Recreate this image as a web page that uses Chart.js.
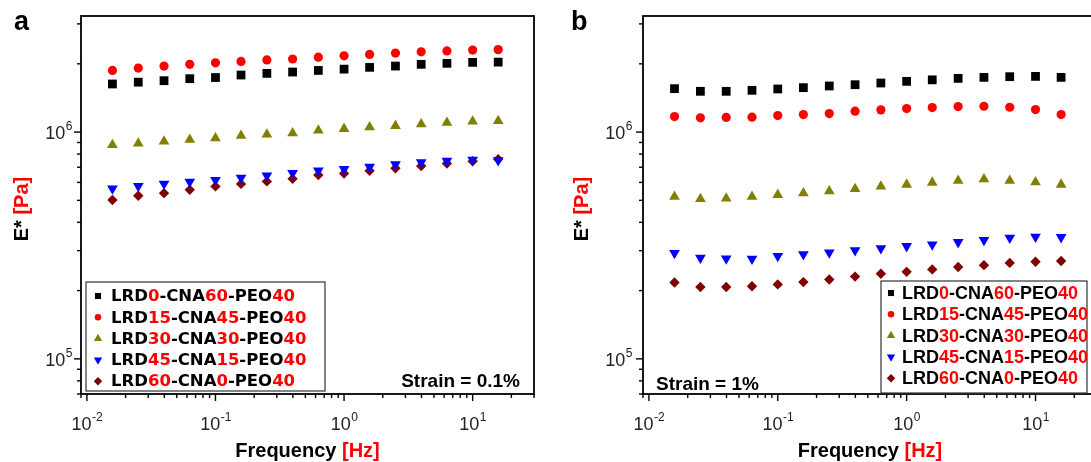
<!DOCTYPE html>
<html>
<head>
<meta charset="utf-8">
<script src="https://cdn.jsdelivr.net/npm/chart.js@4.4.0/dist/chart.umd.min.js"></script>
<style>
html, body { margin: 0; padding: 0; overflow: hidden; background: #fff; width: 1091px; height: 462px; }
#wrapA { position: absolute; left: 0; top: 0; width: 545px; height: 462px; }
#wrapB { position: absolute; left: 545px; top: 0; width: 560px; height: 462px; }
</style>
</head>
<body>
<div id="wrapA"><canvas id="chartA" width="545" height="462"></canvas></div>
<div id="wrapB"><canvas id="chartB" width="560" height="462"></canvas></div>
<script>
// frequency sweep [Hz]
const frequencies = [0.0158, 0.0251, 0.0398, 0.0631, 0.1, 0.158, 0.251, 0.398, 0.631, 1, 1.58, 2.51, 3.98, 6.31, 10, 15.8];

// sample composition (legend)
const lrdContent = ['0', '15', '30', '45', '60'];
const cnaContent = ['60', '45', '30', '15', '0'];
const peoContent = '40';

// E* [Pa], strain = 0.1 %
const lowLRD0  = [1.63e6, 1.66e6, 1.685e6, 1.72e6, 1.74e6, 1.785e6, 1.815e6, 1.84e6, 1.87e6, 1.895e6, 1.93e6, 1.955e6, 1.99e6, 2.01e6, 2.03e6, 2.035e6];
const lowLRD15 = [1.87e6, 1.915e6, 1.954e6, 1.99e6, 2.02e6, 2.05e6, 2.08e6, 2.10e6, 2.14e6, 2.17e6, 2.20e6, 2.23e6, 2.26e6, 2.28e6, 2.30e6, 2.31e6];
const lowLRD30 = [8.77e5, 8.92e5, 9.10e5, 9.26e5, 9.41e5, 9.64e5, 9.77e5, 9.90e5, 1.017e6, 1.034e6, 1.052e6, 1.066e6, 1.084e6, 1.10e6, 1.114e6, 1.12e6];
const lowLRD45 = [5.64e5, 5.78e5, 5.91e5, 6.03e5, 6.14e5, 6.28e5, 6.43e5, 6.59e5, 6.77e5, 6.86e5, 7.02e5, 7.21e5, 7.36e5, 7.46e5, 7.54e5, 7.50e5];
const lowLRD60 = [5.02e5, 5.24e5, 5.38e5, 5.57e5, 5.76e5, 5.91e5, 6.06e5, 6.22e5, 6.46e5, 6.57e5, 6.75e5, 6.93e5, 7.09e5, 7.26e5, 7.44e5, 7.59e5];

// E* [Pa], strain = 1 %
const highLRD0  = [1.554e6, 1.513e6, 1.513e6, 1.528e6, 1.549e6, 1.57e6, 1.597e6, 1.618e6, 1.646e6, 1.674e6, 1.70e6, 1.725e6, 1.743e6, 1.755e6, 1.76e6, 1.743e6];
const highLRD15 = [1.171e6, 1.156e6, 1.16e6, 1.164e6, 1.183e6, 1.195e6, 1.207e6, 1.236e6, 1.253e6, 1.27e6, 1.283e6, 1.296e6, 1.30e6, 1.287e6, 1.257e6, 1.195e6];
const highLRD30 = [5.19e5, 5.07e5, 5.10e5, 5.19e5, 5.29e5, 5.38e5, 5.49e5, 5.62e5, 5.76e5, 5.87e5, 5.99e5, 6.10e5, 6.20e5, 6.10e5, 6.01e5, 5.87e5];
const highLRD45 = [2.93e5, 2.79e5, 2.77e5, 2.76e5, 2.84e5, 2.89e5, 2.94e5, 3.01e5, 3.07e5, 3.14e5, 3.19e5, 3.27e5, 3.34e5, 3.42e5, 3.45e5, 3.44e5];
const highLRD60 = [2.17e5, 2.076e5, 2.076e5, 2.09e5, 2.13e5, 2.18e5, 2.24e5, 2.305e5, 2.375e5, 2.42e5, 2.48e5, 2.54e5, 2.59e5, 2.65e5, 2.68e5, 2.70e5];

// tick labels (powers of ten)
const xTickExponents = ['-2', '-1', '0', '1'];
const yTickExponents = ['5', '6'];

// marker styles
const colors = ['#000000', '#ff0000', '#808000', '#0000ff', '#800000'];
const pointStyles = ['rect', 'circle', 'triangle', 'triangle', 'rectRot'];
const rotations = [0, 0, 0, 180, 0];
const radii = [6.2, 4.6, 6.2, 6.2, 5.2];
const legendRadii = [4.3, 3.3, 4.8, 4.8, 4.2];

const FONT = "'Liberation Sans', Arial, Helvetica, sans-serif";
const WIDE_FONT = "'DejaVu Sans', Verdana, sans-serif";
const RED = '#ff0000';
const BLACK = '#000000';

function makeDatasets(series) {
    return series.map(function (vals, i) {
        return {
            label: 'LRD' + lrdContent[i] + '-CNA' + cnaContent[i] + '-PEO' + peoContent,
            data: frequencies.map(function (f, j) { return { x: f, y: vals[j] }; }),
            showLine: false,
            pointStyle: pointStyles[i],
            rotation: rotations[i],
            pointRadius: radii[i],
            pointHoverRadius: radii[i],
            backgroundColor: colors[i],
            borderColor: colors[i],
            borderWidth: 0
        };
    });
}

function drawParts(ctx, parts, x, y, align) {
    let total = 0;
    parts.forEach(function (p) { total += ctx.measureText(p[0]).width; });
    let cx = x;
    if (align === 'center') cx = x - total / 2;
    if (align === 'right') cx = x - total;
    ctx.textAlign = 'left';
    parts.forEach(function (p) {
        ctx.fillStyle = p[1];
        ctx.fillText(p[0], cx, y);
        cx += ctx.measureText(p[0]).width;
    });
}

function drawPower(ctx, exp, x, y, align) {
    ctx.font = '18px ' + FONT;
    const wBase = ctx.measureText('10').width;
    ctx.font = '12px ' + FONT;
    const wExp = ctx.measureText(exp).width;
    let start = x;
    if (align === 'center') start = x - (wBase + wExp) / 2;
    if (align === 'right') start = x - (wBase + wExp);
    ctx.textAlign = 'left';
    ctx.fillStyle = '#222';
    ctx.font = '18px ' + FONT;
    ctx.fillText('10', start, y);
    ctx.font = '12px ' + FONT;
    ctx.fillText(exp, start + wBase + 0.5, y - 9);
}

function isNice(v) {
    const e = Math.floor(Math.log10(v) + 1e-9);
    const s = v / Math.pow(10, e);
    return Math.abs(s - Math.round(s)) < 1e-6;
}
function isDecade(v) {
    const l = Math.log10(v);
    return Math.abs(l - Math.round(l)) < 1e-6;
}

const panelPlugin = {
    id: 'panel',
    afterDatasetsDraw(chart, args, opts) {
        const ctx = chart.ctx;
        const a = chart.chartArea;
        const xs = chart.scales.x;
        const ys = chart.scales.y;
        ctx.save();

        // frame
        ctx.strokeStyle = '#000';
        ctx.lineWidth = 1.8;
        ctx.strokeRect(a.left, a.top, a.right - a.left, a.bottom - a.top);

        // tick marks
        ctx.lineWidth = 1.4;
        xs.ticks.forEach(function (t) {
            if (!isNice(t.value)) return;
            const px = xs.getPixelForValue(t.value);
            const len = isDecade(t.value) ? 7 : 4;
            ctx.beginPath();
            ctx.moveTo(px, a.bottom);
            ctx.lineTo(px, a.bottom + len);
            ctx.stroke();
        });
        ys.ticks.forEach(function (t) {
            if (!isNice(t.value)) return;
            const py = ys.getPixelForValue(t.value);
            const len = isDecade(t.value) ? 7 : 4;
            ctx.beginPath();
            ctx.moveTo(a.left, py);
            ctx.lineTo(a.left - len, py);
            ctx.stroke();
        });

        // tick labels
        ctx.textBaseline = 'alphabetic';
        xTickExponents.forEach(function (e) {
            const px = xs.getPixelForValue(Math.pow(10, Number(e)));
            drawPower(ctx, e, px, a.bottom + 36, 'center');
        });
        yTickExponents.forEach(function (e) {
            const py = ys.getPixelForValue(Math.pow(10, Number(e)));
            drawPower(ctx, e, a.left - opts.yLabelGap, py + 7, 'right');
        });

        // axis titles
        ctx.font = 'bold 20px ' + FONT;
        drawParts(ctx, [['Frequency ', BLACK], ['[Hz]', RED]], (a.left + a.right) / 2, 457, 'center');
        ctx.save();
        ctx.translate(a.left - opts.yTitleOffset, (a.top + a.bottom) / 2 + 4);
        ctx.rotate(-Math.PI / 2);
        drawParts(ctx, [['E* ', BLACK], ['[Pa]', RED]], 0, 0, 'center');
        ctx.restore();

        // panel letter
        ctx.font = 'bold 27px ' + FONT;
        ctx.fillStyle = BLACK;
        ctx.textAlign = 'left';
        ctx.fillText(opts.letter, opts.letterX, 30);

        // strain note
        ctx.font = 'bold 19px ' + FONT;
        drawParts(ctx, [[opts.strain, BLACK]], opts.strainX, opts.strainY, opts.strainAlign);

        // legend
        const lg = opts.legend;
        ctx.fillStyle = '#fff';
        ctx.fillRect(lg.left, lg.top, lg.width, lg.height);
        ctx.strokeStyle = '#333';
        ctx.lineWidth = 1.2;
        ctx.strokeRect(lg.left, lg.top, lg.width, lg.height);
        ctx.font = 'bold ' + lg.fontSize + 'px ' + lg.font;
        ctx.textBaseline = 'middle';
        chart.data.datasets.forEach(function (ds, i) {
            const y = lg.top + lg.firstRow + i * lg.rowStep;
            ctx.fillStyle = ds.backgroundColor;
            Chart.helpers.drawPoint(ctx, { pointStyle: ds.pointStyle, rotation: ds.rotation, radius: legendRadii[i], borderWidth: 0 }, lg.left + lg.markerX, y);
            drawParts(ctx, [
                ['LRD', BLACK], [lrdContent[i], RED],
                ['-CNA', BLACK], [cnaContent[i], RED],
                ['-PEO', BLACK], [peoContent, RED]
            ], lg.left + lg.textX, y + 1, 'left');
        });

        ctx.restore();
    }
};

function makeChart(id, series, padLeft, padRight, panelOpts) {
    const ctx = document.getElementById(id).getContext('2d');
    return new Chart(ctx, {
        type: 'scatter',
        data: { datasets: makeDatasets(series) },
        options: {
            responsive: false,
            animation: false,
            devicePixelRatio: 1,
            layout: { padding: { left: padLeft, right: padRight, top: 16, bottom: 0 } },
            plugins: {
                legend: { display: false },
                tooltip: { enabled: false },
                panel: panelOpts
            },
            scales: {
                x: {
                    type: 'logarithmic',
                    min: 0.009,
                    max: 30,
                    grid: { display: false, drawTicks: false },
                    border: { display: false },
                    ticks: { display: false, autoSkip: false },
                    afterFit: function (s) { s.height = 68; }
                },
                y: {
                    type: 'logarithmic',
                    min: 7e4,
                    max: 3.25e6,
                    grid: { display: false, drawTicks: false },
                    border: { display: false },
                    ticks: { display: false, autoSkip: false },
                    afterFit: function (s) { s.width = 81; }
                }
            }
        },
        plugins: [panelPlugin]
    });
}

makeChart('chartA', [lowLRD0, lowLRD15, lowLRD30, lowLRD45, lowLRD60], 0, 11, {
    letter: 'a', letterX: 14,
    yTitleOffset: 53, yLabelGap: 9,
    strain: 'Strain = 0.1%', strainX: 520, strainY: 387, strainAlign: 'right',
    legend: { left: 86, top: 282, width: 239, height: 109, font: WIDE_FONT, fontSize: 16.5, markerX: 12, textX: 25, firstRow: 14, rowStep: 21.3 }
});

makeChart('chartB', [highLRD0, highLRD15, highLRD30, highLRD45, highLRD60], 17, 8, {
    letter: 'b', letterX: 26,
    yTitleOffset: 55, yLabelGap: 11,
    strain: 'Strain = 1%', strainX: 111, strainY: 390, strainAlign: 'left',
    legend: { left: 336, top: 281, width: 206, height: 112, font: FONT, fontSize: 18, markerX: 10, textX: 21, firstRow: 12, rowStep: 21.3 }
});
</script>
</body>
</html>
